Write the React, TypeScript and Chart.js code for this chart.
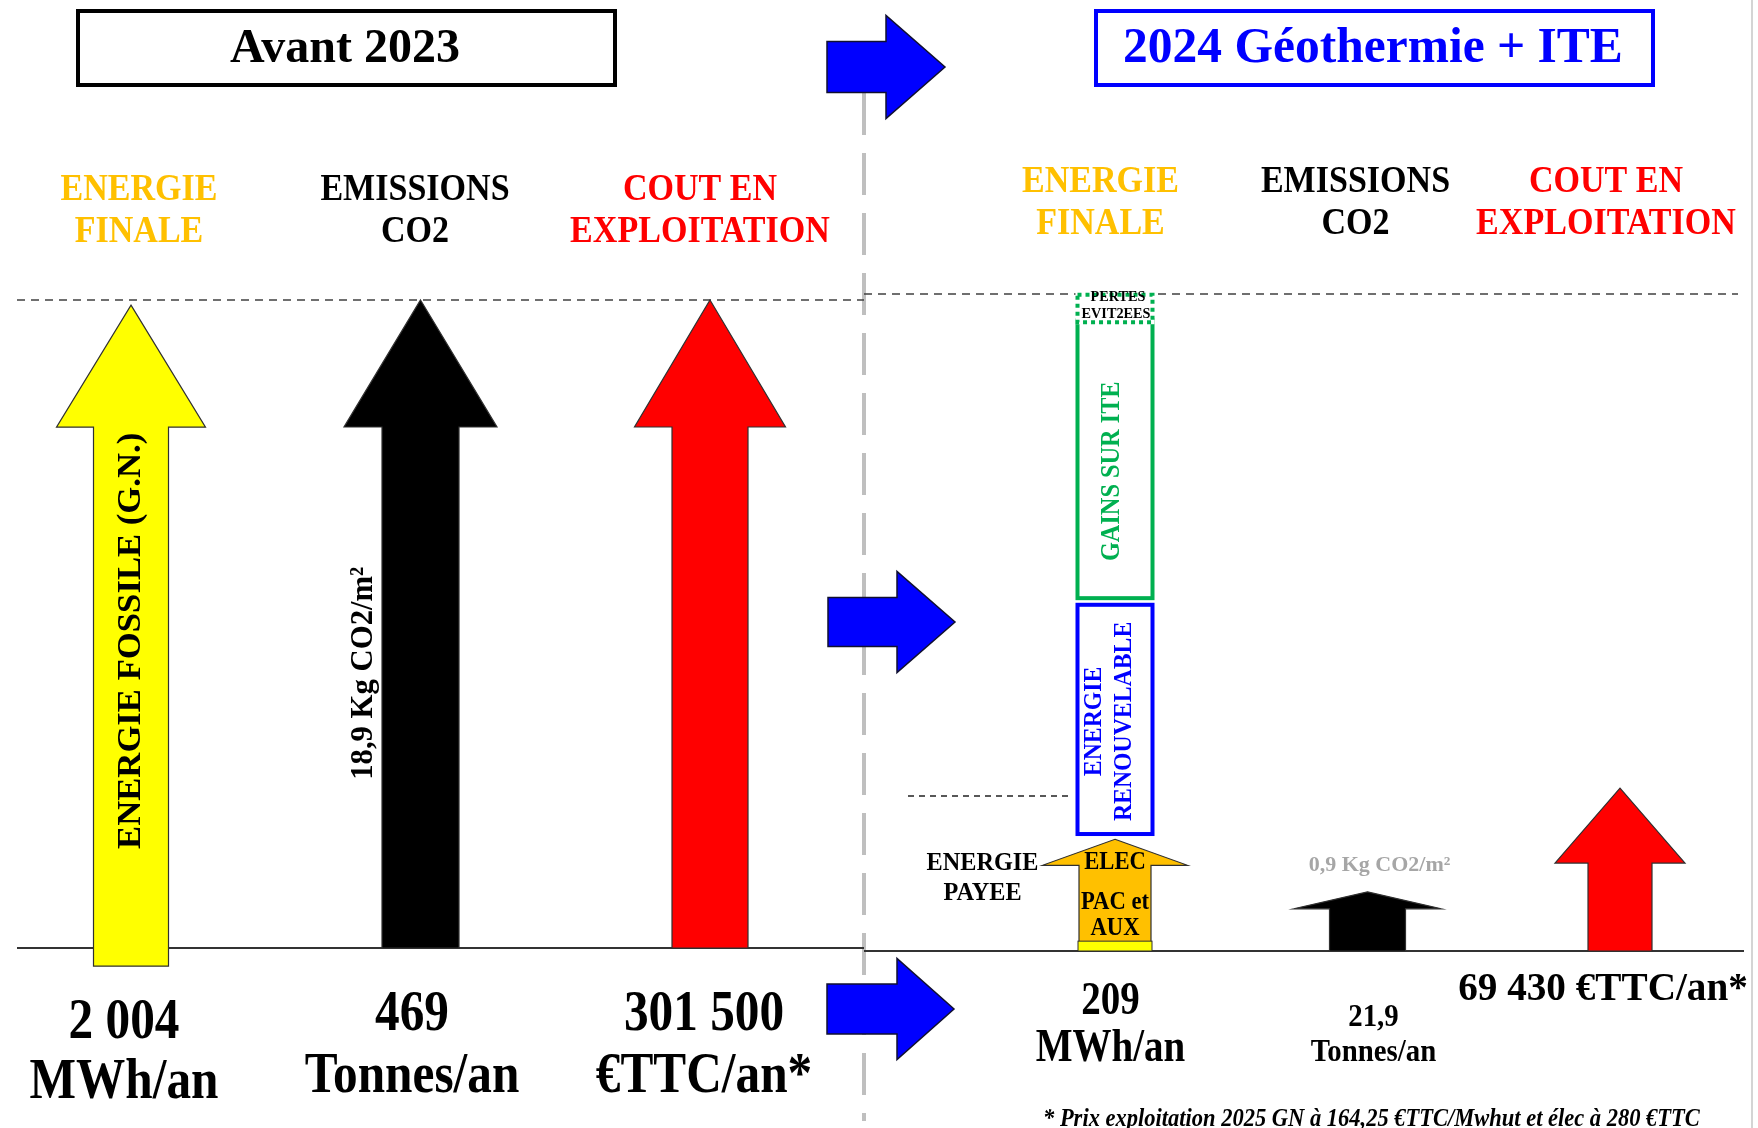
import React, { useEffect, useRef } from 'react';
import { Chart, registerables } from 'chart.js';

Chart.register(...registerables);

const W = 1758;
const H = 1128;
const FONT = '"Liberation Serif", "Times New Roman", serif';

// ---------------- DATA ----------------
const titles = ['Avant 2023', '2024 Géothermie + ITE'];
const categories = ['ENERGIE FINALE', 'EMISSIONS CO2', 'COUT EN EXPLOITATION'];
const headerLines = [['ENERGIE', 'FINALE'], ['EMISSIONS', 'CO2'], ['COUT EN', 'EXPLOITATION']];
// relative arrow heights (2023 level = 100)
const beforeArrows: [number, number][] = [[-2.8, 99.2], [0, 100], [0, 100]];
const afterArrows: [number, number][] = [[0, 17], [0, 9], [0, 24.8]];
// stacked boxes of the 2024 "énergie finale" column
const afterAppoint: [number, number] = [0, 1.5];
const afterRenouvelable: [number, number] = [17.5, 53.0];
const afterGainsITE: [number, number] = [53.4, 96.3];
const afterPertesEvitees: [number, number] = [95.4, 100.2];
const afterRepere = 23.6;
const beforeValueLabels = [['2 004', 'MWh/an'], ['469', 'Tonnes/an'], ['301 500', '€TTC/an*']];
const afterValueLabels = [['209', 'MWh/an'], ['21,9', 'Tonnes/an'], ['69 430 €TTC/an*']];
const beforeArrowTexts = ['ENERGIE FOSSILE (G.N.)', '18,9 Kg CO2/m²', ''];
const afterEmissionNote = '0,9 Kg CO2/m²';
const elecLines = ['ELEC', 'PAC et', 'AUX'];
const payeeLines = ['ENERGIE', 'PAYEE'];
const renouvLines = ['ENERGIE', 'RENOUVELABLE'];
const gainsText = 'GAINS SUR ITE';
const pertesLines = ['PERTES', 'EVIT2EES'];
const footnote = '* Prix exploitation 2025 GN à 164,25 €TTC/Mwhut et élec à 280 €TTC';

// ---------------- STYLE ----------------
const headerColors = ['#ffc000', '#000000', '#ff0000'];
const beforeColors = ['#ffff00', '#000000', '#ff0000'];
const afterColors = ['#ffc000', '#000000', '#ff0000'];
const beforeShaft = [75, 77, 76];
const beforeHead = [149, 153, 151];
const beforeHeadH = [122, 127, 127];
const afterShaft = [72, 76, 64];
const afterHead = [145, 148, 130];
const afterHeadH = [26, 17, 75];
const SEP_X = 864;

type TO = { size: number; color?: string; k?: number; rot?: number; style?: string; align?: CanvasTextAlign; baseline?: CanvasTextBaseline };
function drawText(ctx: CanvasRenderingContext2D, s: string, x: number, y: number, o: TO) {
  ctx.save();
  const dy = !o.rot && !o.baseline ? 3 : 0;
  ctx.translate(x, y + dy);
  if (o.rot) ctx.rotate(o.rot);
  ctx.scale(o.k ?? 1, 1);
  ctx.font = `${o.style ?? 'bold'} ${o.size}px ${FONT}`;
  ctx.fillStyle = o.color ?? '#000';
  ctx.textAlign = o.align ?? 'center';
  ctx.textBaseline = o.baseline ?? 'middle';
  ctx.fillText(s, 0, 0);
  ctx.restore();
}

function line(ctx: CanvasRenderingContext2D, x1: number, y1: number, x2: number, y2: number, color: string, lw: number, dash: number[]) {
  ctx.save();
  ctx.strokeStyle = color;
  ctx.lineWidth = lw;
  ctx.setLineDash(dash);
  ctx.beginPath();
  ctx.moveTo(x1, y1);
  ctx.lineTo(x2, y2);
  ctx.stroke();
  ctx.restore();
}

function upArrow(ctx: CanvasRenderingContext2D, cx: number, top: number, bottom: number, sw: number, hw: number, hh: number, fill: string) {
  ctx.save();
  ctx.beginPath();
  ctx.moveTo(cx, top);
  ctx.lineTo(cx + hw / 2, top + hh);
  ctx.lineTo(cx + sw / 2, top + hh);
  ctx.lineTo(cx + sw / 2, bottom);
  ctx.lineTo(cx - sw / 2, bottom);
  ctx.lineTo(cx - sw / 2, top + hh);
  ctx.lineTo(cx - hw / 2, top + hh);
  ctx.closePath();
  ctx.fillStyle = fill;
  ctx.fill();
  ctx.lineWidth = 1.2;
  ctx.strokeStyle = '#303030';
  ctx.stroke();
  ctx.restore();
}

function rightArrow(ctx: CanvasRenderingContext2D, x0: number, yc: number, sl: number, sh: number, hl: number, hh: number) {
  ctx.save();
  ctx.beginPath();
  ctx.moveTo(x0, yc - sh / 2);
  ctx.lineTo(x0 + sl, yc - sh / 2);
  ctx.lineTo(x0 + sl, yc - hh / 2);
  ctx.lineTo(x0 + sl + hl, yc);
  ctx.lineTo(x0 + sl, yc + hh / 2);
  ctx.lineTo(x0 + sl, yc + sh / 2);
  ctx.lineTo(x0, yc + sh / 2);
  ctx.closePath();
  ctx.fillStyle = '#0000ff';
  ctx.fill();
  ctx.lineWidth = 1.5;
  ctx.strokeStyle = '#101030';
  ctx.stroke();
  ctx.restore();
}

function titleBox(ctx: CanvasRenderingContext2D, x1: number, y1: number, x2: number, y2: number, color: string) {
  ctx.save();
  ctx.strokeStyle = color;
  ctx.lineWidth = 4;
  ctx.strokeRect(x1 + 2, y1 + 2, x2 - x1 - 4, y2 - y1 - 4);
  ctx.restore();
}

const leftPlugin = {
  id: 'leftDraw',
  afterDraw(chart: any) {
    const ctx: CanvasRenderingContext2D = chart.ctx;
    const ys = chart.scales.y;
    const y0 = ys.getPixelForValue(0);
    const y100 = ys.getPixelForValue(100);
    // separator
    line(ctx, SEP_X, 93, SEP_X, 1121, '#bfbfbf', 4, [42, 18]);
    // titles
    titleBox(ctx, 76, 9, 617, 87, '#000');
    drawText(ctx, titles[0], 345, 47, { size: 48 });
    titleBox(ctx, 1094, 9, 1655, 87, '#0000ff');
    drawText(ctx, titles[1], 1373, 46, { size: 50, k: 0.99, color: '#0000ff' });
    // blue arrows
    rightArrow(ctx, 827, 67, 59, 51, 59, 103);
    rightArrow(ctx, 828, 622, 69, 49, 58, 101);
    rightArrow(ctx, 827, 1009, 70, 50, 57, 101);
    // reference lines
    line(ctx, 17, y100, SEP_X, y100, '#404040', 1.5, [8, 6]);
    line(ctx, 17, y0, SEP_X, y0, '#333', 2, []);
    const els = chart.getDatasetMeta(0).data;
    const hdx = [8, -5.5, -10];
    const vdx = [-7, -8.5, -6];
    const vdy = [[72, 132], [64, 126], [64, 126]];
    els.forEach((el: any, i: number) => {
      upArrow(ctx, el.x, el.y, el.base, beforeShaft[i], beforeHead[i], beforeHeadH[i], beforeColors[i]);
      headerLines[i].forEach((s, j) =>
        drawText(ctx, s, el.x + hdx[i], y100 - 113 + j * 42, { size: 37, k: 0.92, color: headerColors[i] }));
      beforeValueLabels[i].forEach((s, j) =>
        drawText(ctx, s, el.x + vdx[i], y0 + vdy[i][j], { size: 58, k: 0.85 }));
    });
    // texts along arrows
    drawText(ctx, beforeArrowTexts[0], els[0].x, ys.getPixelForValue(47.4), { size: 34, k: 1.02, rot: -Math.PI / 2 });
    drawText(ctx, beforeArrowTexts[1], els[1].x - 57, ys.getPixelForValue(42.4), { size: 32, k: 0.96, rot: -Math.PI / 2 });
  },
};

const rightPlugin = {
  id: 'rightDraw',
  afterDraw(chart: any) {
    const ctx: CanvasRenderingContext2D = chart.ctx;
    const ys = chart.scales.y;
    const y0 = ys.getPixelForValue(0);
    const y100 = ys.getPixelForValue(100);
    line(ctx, SEP_X, y100, 1738, y100, '#404040', 1.5, [8, 6]);
    line(ctx, SEP_X, y0, 1744, y0, '#333', 2, []);
    line(ctx, 1752, 0, 1752, H, '#d4d4d4', 2, []);
    const els = chart.getDatasetMeta(0).data;
    const c0 = els[0];
    const yr = ys.getPixelForValue(afterRepere);
    line(ctx, 908, yr, c0.x - 42, yr, '#222', 1.5, [6, 5]);

    const box = (ds: number, color: string, dash: number[]) => {
      const el = chart.getDatasetMeta(ds).data[0];
      const w = 79;
      ctx.save();
      ctx.fillStyle = '#fff';
      ctx.fillRect(el.x - w / 2, el.y, w, el.base - el.y);
      ctx.strokeStyle = color;
      ctx.lineWidth = 4;
      ctx.setLineDash(dash);
      ctx.strokeRect(el.x - w / 2 + 2, el.y + 2, w - 4, el.base - el.y - 4);
      ctx.restore();
      return el;
    };
    const gEl = box(3, '#00b050', []);
    const pEl = box(4, '#00b050', [4, 4]);
    const rEl = box(2, '#0000ff', []);

    const hdx = [-14.5, -12, -14];
    els.forEach((el: any, i: number) => {
      upArrow(ctx, el.x, el.y, el.base, afterShaft[i], afterHead[i], afterHeadH[i], afterColors[i]);
      headerLines[i].forEach((s, j) =>
        drawText(ctx, s, el.x + hdx[i], y100 - 114.5 + j * 42, { size: 37, k: 0.92, color: headerColors[i] }));
    });
    // yellow strip
    const aEl = chart.getDatasetMeta(1).data[0];
    ctx.save();
    ctx.fillStyle = '#ffff00';
    ctx.fillRect(aEl.x - 37, aEl.y, 74, aEl.base - aEl.y);
    ctx.strokeStyle = '#303030';
    ctx.lineWidth = 1;
    ctx.strokeRect(aEl.x - 37, aEl.y, 74, aEl.base - aEl.y);
    ctx.restore();

    // value labels
    drawText(ctx, afterValueLabels[0][0], els[0].x - 4.5, y0 + 48, { size: 47, k: 0.83 });
    drawText(ctx, afterValueLabels[0][1], els[0].x - 4.5, y0 + 95, { size: 47, k: 0.83 });
    drawText(ctx, afterValueLabels[1][0], els[1].x + 6, y0 + 64, { size: 31, k: 0.93 });
    drawText(ctx, afterValueLabels[1][1], els[1].x + 6, y0 + 99, { size: 31, k: 0.93 });
    drawText(ctx, afterValueLabels[2][0], els[2].x - 17, y0 + 36, { size: 40, k: 0.98 });

    // inner texts
    const elecY = [859, 899, 925].map((v) => v - y0);
    elecLines.forEach((s, j) => drawText(ctx, s, c0.x, y0 + elecY[j], { size: 26, k: 0.87 }));
    payeeLines.forEach((s, j) => drawText(ctx, s, c0.x - 132.5, c0.y + 21 + j * 30, { size: 25, k: 0.97 }));
    drawText(ctx, afterEmissionNote, els[1].x + 12, els[1].y - 30, { size: 22, color: '#a6a6a6' });
    const rMid = (rEl.y + rEl.base) / 2;
    drawText(ctx, renouvLines[0], rEl.x - 20, rMid + 2, { size: 25, k: 0.95, rot: -Math.PI / 2, color: '#0000ff' });
    drawText(ctx, renouvLines[1], rEl.x + 10, rMid + 2, { size: 25, k: 0.95, rot: -Math.PI / 2, color: '#0000ff' });
    drawText(ctx, gainsText, gEl.x - 2.5, (gEl.y + gEl.base) / 2 + 12, { size: 27, k: 0.9, rot: -Math.PI / 2, color: '#00b050' });
    drawText(ctx, pertesLines[0], pEl.x + 3, pEl.y + 1, { size: 15, k: 0.95 });
    drawText(ctx, pertesLines[1], pEl.x + 1, pEl.y + 18, { size: 15, k: 0.95 });

    drawText(ctx, footnote, 1043, 1126, { size: 25, k: 0.9, style: 'italic bold', align: 'left', baseline: 'alphabetic' });
  },
};

function makeConfig(datasets: any[], pad: any, plugin: any): any {
  return {
    type: 'bar',
    data: { labels: categories, datasets },
    options: {
      responsive: false,
      animation: false,
      devicePixelRatio: 1,
      events: [],
      layout: { padding: pad },
      plugins: { legend: { display: false }, tooltip: { enabled: false } },
      scales: {
        x: { type: 'category', display: false, offset: false, grid: { offset: false } },
        y: { type: 'linear', display: false, min: 0, max: 100 },
      },
    },
    plugins: [plugin],
  };
}

const clear = { backgroundColor: 'rgba(0,0,0,0)', borderWidth: 0, grouped: false };

export default function App() {
  const leftRef = useRef<HTMLCanvasElement>(null);
  const rightRef = useRef<HTMLCanvasElement>(null);
  useEffect(() => {
    const left = new Chart(
      leftRef.current!,
      makeConfig(
        [{ label: 'Avant 2023', data: beforeArrows, ...clear }],
        { left: 131, right: W - 710, top: 300, bottom: H - 948 },
        leftPlugin,
      ),
    );
    const right = new Chart(
      rightRef.current!,
      makeConfig(
        [
          { label: '2024', data: afterArrows, ...clear },
          { label: 'Appoint', data: [afterAppoint, null, null], ...clear },
          { label: 'Energie renouvelable', data: [afterRenouvelable, null, null], ...clear },
          { label: 'Gains sur ITE', data: [afterGainsITE, null, null], ...clear },
          { label: 'Pertes évitées', data: [afterPertesEvitees, null, null], ...clear },
        ],
        { left: 1115, right: W - 1620, top: 294, bottom: H - 951 },
        rightPlugin,
      ),
    );
    return () => {
      left.destroy();
      right.destroy();
    };
  }, []);
  const cs: React.CSSProperties = { position: 'absolute', left: 0, top: 0 };
  return (
    <div style={{ position: 'absolute', left: 0, top: 0, width: W, height: H, background: '#fff', overflow: 'hidden' }}>
      <canvas ref={leftRef} width={W} height={H} style={cs} />
      <canvas ref={rightRef} width={W} height={H} style={cs} />
    </div>
  );
}
